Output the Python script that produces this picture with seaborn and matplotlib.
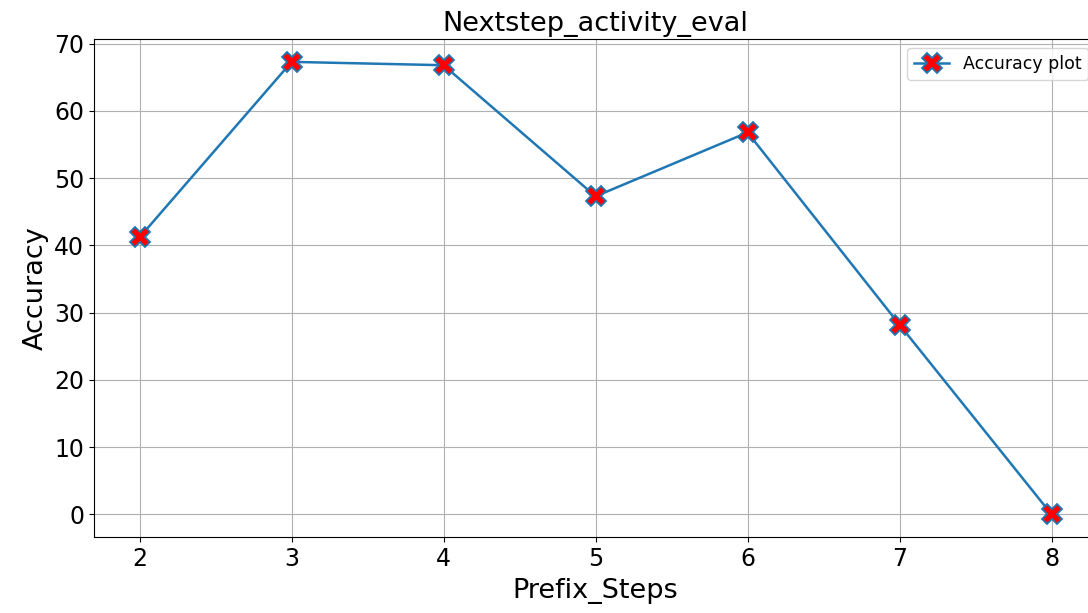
import matplotlib
matplotlib.use('Agg')
import matplotlib.pyplot as plt
import seaborn as sns
import pandas as pd

prefix_steps = [2, 3, 4, 5, 6, 7, 8]
accuracy = [41.2, 67.3, 66.8, 47.3, 56.8, 28.2, 0.0]

df = pd.DataFrame({'Prefix_Steps': prefix_steps, 'Accuracy': accuracy})

fig = plt.figure(figsize=(10.88, 6.13), dpi=100)
ax = fig.add_axes([0.0864, 0.124, 0.922, 0.812])
sns.lineplot(data=df, x='Prefix_Steps', y='Accuracy', ax=ax, color='#1f77b4',
             marker='X', markersize=15, markerfacecolor='red', markeredgecolor='#1f77b4',
             markeredgewidth=1.3, linewidth=1.8, label='Accuracy plot')

ax.set_title('Nextstep_activity_eval', fontsize=19.5, pad=6)
ax.set_xlabel('Prefix_Steps', fontsize=19.5, labelpad=5)
ax.set_ylabel('Accuracy', fontsize=19.5)
ax.tick_params(labelsize=17)
ax.set_xticks(prefix_steps)
ax.grid(True)
ax.legend(loc='upper right', fontsize=12.5)

fig.savefig('out.png', dpi=100)
